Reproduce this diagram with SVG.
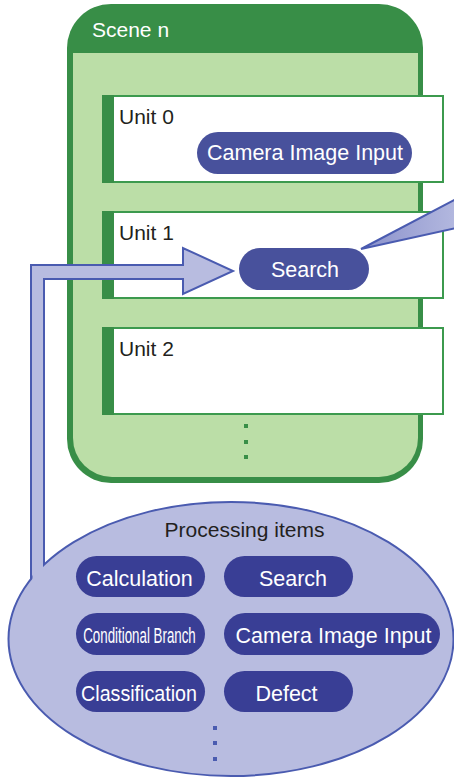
<svg xmlns="http://www.w3.org/2000/svg" width="454" height="778" viewBox="0 0 454 778">
<defs>
<style>
.lbl{font-family:"Liberation Sans",Arial,sans-serif;font-size:21px;fill:#231f20}
.pt{font-family:"Liberation Sans",Arial,sans-serif;font-size:21.5px;fill:#ffffff;text-anchor:middle}
.unit{fill:#ffffff;stroke:#3c9a4e;stroke-width:2}
.bar{fill:#388e47}
.pillA{fill:#48519c}
.pillB{fill:#393e95}
.gdot{fill:#388e47}
.bdot{fill:#4a5bb0}
</style>
<linearGradient id="wedge" x1="0" y1="0" x2="1" y2="0">
<stop offset="0" stop-color="#8a91cb"/>
<stop offset="1" stop-color="#b3b8df"/>
</linearGradient>
</defs>

<g id="scene">
<rect x="67" y="4" width="356" height="479" rx="44" ry="44" fill="#388e47"/>
<path d="M73 53 H418 V438 A39 39 0 0 1 379 477 H112 A39 39 0 0 1 73 438 Z" fill="#bbdea7"/>
<text class="lbl" x="92" y="37" style="fill:#ffffff">Scene n</text>
<rect class="gdot" x="244" y="424" width="4" height="4"/>
<rect class="gdot" x="244" y="440" width="4" height="4"/>
<rect class="gdot" x="244" y="455" width="4" height="4"/>
</g>

<g id="unit0">
<rect class="unit" x="103" y="96" width="340" height="86"/>
<rect class="bar" x="102" y="95" width="12" height="88"/>
<text class="lbl" x="119" y="124">Unit 0</text>
<rect class="pillA" x="197" y="132" width="215" height="42" rx="21"/>
<text class="pt" x="305" y="160">Camera Image Input</text>
</g>

<g id="unit1">
<rect class="unit" x="103" y="212" width="340" height="86"/>
<rect class="bar" x="102" y="211" width="12" height="88"/>
<text class="lbl" x="119" y="240">Unit 1</text>
<rect class="pillA" x="239" y="248" width="130" height="42" rx="21"/>
<text class="pt" x="305" y="277">Search</text>
</g>

<g id="unit2">
<rect class="unit" x="103" y="328" width="340" height="86"/>
<rect class="bar" x="102" y="327" width="12" height="88"/>
<text class="lbl" x="119" y="356">Unit 2</text>
</g>

<g id="connectors">
<polygon points="31,600 31,265 183,265 183,248 233,271 183,294 183,279 44,279 44,600" fill="#b8bce0" stroke="#4a5bb0" stroke-width="2" stroke-linejoin="miter"/>
<polygon points="361,249 456,199 456,228" fill="url(#wedge)" stroke="#4a5bb0" stroke-width="2" stroke-linejoin="miter"/>
</g>

<g id="processing-items">
<ellipse cx="231" cy="639" rx="222.5" ry="137" fill="#b8bce0" stroke="#4a5bb0" stroke-width="2"/>
<rect x="32.5" y="552" width="10.5" height="40" fill="#b8bce0"/>
<text class="lbl" x="244.5" y="537" text-anchor="middle">Processing items</text>
<rect class="pillB" x="76" y="556" width="129" height="41" rx="20.5"/>
<text class="pt" x="139.5" y="586">Calculation</text>
<rect class="pillB" x="224" y="556" width="129" height="41" rx="20.5"/>
<text class="pt" x="293" y="586">Search</text>
<rect class="pillB" x="76" y="613" width="129" height="42" rx="21"/>
<text class="pt" transform="translate(139.5 643) scale(0.62 1)" x="0" y="0">Conditional Branch</text>
<rect class="pillB" x="224" y="613" width="216" height="42" rx="21"/>
<text class="pt" x="333.5" y="643">Camera Image Input</text>
<rect class="pillB" x="76" y="671" width="129" height="41" rx="20.5"/>
<text class="pt" transform="translate(139 701) scale(0.915 1)" x="0" y="0">Classification</text>
<rect class="pillB" x="224" y="671" width="129" height="41" rx="20.5"/>
<text class="pt" x="286.5" y="701">Defect</text>
<rect class="bdot" x="213" y="726" width="4" height="4"/>
<rect class="bdot" x="213" y="741" width="4" height="4"/>
<rect class="bdot" x="213" y="757" width="4" height="4"/>
</g>
</svg>
